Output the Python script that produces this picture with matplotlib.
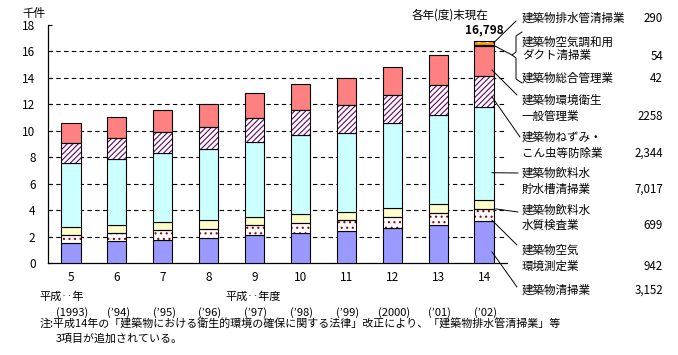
import numpy as np
import matplotlib.pyplot as plt

plt.rcParams['font.family'] = ['Noto Sans CJK JP', 'DejaVu Sans']
plt.rcParams['hatch.linewidth'] = 0.8

# 年度ラベル
years = ['5', '6', '7', '8', '9', '10', '11', '12', '13', '14']
year_notes = ['(1993)', '(’94)', '(’95)', '(’96)', '(’97)', '(’98)', '(’99)', '(2000)', '(’01)', '(’02)']

# 業種別登録件数（千件）、下から積み上げ
cleaning = [1.49, 1.64, 1.72, 1.87, 2.10, 2.25, 2.40, 2.62, 2.85, 3.152]
air_measure = [0.61, 0.61, 0.78, 0.73, 0.75, 0.75, 0.83, 0.84, 0.91, 0.942]
water_test = [0.60, 0.60, 0.60, 0.65, 0.60, 0.68, 0.60, 0.68, 0.70, 0.699]
water_tank = [4.90, 5.05, 5.20, 5.35, 5.68, 5.98, 6.03, 6.43, 6.71, 7.017]
pest = [1.45, 1.53, 1.58, 1.67, 1.84, 1.91, 2.07, 2.11, 2.27, 2.344]
general = [1.52, 1.59, 1.67, 1.73, 1.87, 1.95, 2.04, 2.12, 2.27, 2.258]
total_mgmt = [0, 0, 0, 0, 0, 0, 0, 0, 0, 0.042]
duct = [0, 0, 0, 0, 0, 0, 0, 0, 0, 0.054]
drain = [0, 0, 0, 0, 0, 0, 0, 0, 0, 0.290]

total_label = '16,798'

# 右側の凡例テキスト
right_labels = ['建築物排水管清掃業', '建築物空気調和用\nダクト清掃業', '建築物総合管理業',
                '建築物環境衛生\n一般管理業', '建築物ねずみ・\nこん虫等防除業',
                '建築物飲料水\n貯水槽清掃業', '建築物飲料水\n水質検査業',
                '建築物空気\n環境測定業', '建築物清掃業']
right_values = ['290', '54', '42', '2258', '2,344', '7,017', '699', '942', '3,152']

series = [cleaning, air_measure, water_test, water_tank, pest, general, total_mgmt, duct, drain]
# (塗り色, ハッチ, ハッチ色)
styles = [('#9999FF', None, None),
          ('white', '...', '#990000'),
          ('#FFFFCC', None, None),
          ('#CCFFFF', None, None),
          ('white', '//////', '#660066'),
          ('#FF8080', None, None),
          ('black', None, None),
          ('black', None, None),
          ('#FF9900', '..', '#FFFFCC')]

W, H = 678, 355


def fp(x, y):
    # 図のピクセル座標（左上原点）→ figure fraction
    return (x / W, 1 - y / H)


fig = plt.figure(figsize=(6.78, 3.55), dpi=100)
ax = fig.add_axes([48 / W, 1 - 263 / H, 459 / W, 238 / H])

x = np.arange(len(years))
width = 0.42
bottom = np.zeros(len(years))
for vals, (fc, hatch, hc) in zip(series, styles):
    vals = np.array(vals, dtype=float)
    m = vals > 0
    if hatch:
        ax.bar(x[m], vals[m], width, bottom=bottom[m], color=fc, hatch=hatch,
               edgecolor=hc, linewidth=0, zorder=3)
        ax.bar(x[m], vals[m], width, bottom=bottom[m], fill=False,
               edgecolor='black', linewidth=0.8, zorder=4)
    else:
        ax.bar(x[m], vals[m], width, bottom=bottom[m], color=fc,
               edgecolor='black', linewidth=0.8, zorder=3)
    bottom = bottom + vals

ax.set_xlim(-0.5, 9.5)
ax.set_ylim(0, 18)
ax.set_yticks(np.arange(0, 19, 2))
for yv in np.arange(2, 18, 2):
    ax.axhline(yv, color='black', lw=0.8, ls=(0, (4, 3)), zorder=1)

ax.spines['top'].set_visible(False)
ax.spines['right'].set_visible(False)
ax.spines['left'].set_linewidth(0.9)
ax.spines['bottom'].set_linewidth(0.9)
ax.tick_params(axis='y', direction='in', length=3, pad=9, labelsize=8.5)
ax.set_xticks(x)
ax.set_xticklabels(years)
ax.tick_params(axis='x', length=0, pad=6, labelsize=8.5)

for i, note in enumerate(year_notes):
    ax.annotate(note, xy=(i, 0), xycoords=('data', 'axes fraction'),
                xytext=(1, -35.5), textcoords='offset points',
                ha='center', va='center', fontsize=8, annotation_clip=False)

# 合計ラベル
ax.annotate(total_label, xy=(x[-1], bottom[-1]), xytext=(0, 3),
            textcoords='offset points', ha='center', va='bottom',
            fontsize=8.5, fontweight='bold', annotation_clip=False)

# 引き出し線（最終年度の各区分から）
cum = np.cumsum([s[-1] for s in series])
starts = np.concatenate([[0], cum[:-1]])
last = x[-1]
leaders = [
    (last + 0.21, starts[8] + series[8][-1] * 0.5, (516, 21)),
    (last + 0.21, starts[6] + (series[6][-1] + series[7][-1]) * 0.5, (512, 55)),
    (last + 0.17, starts[5] + series[5][-1] * 0.2, (517, 95)),
    (last + 0.17, starts[4] + series[4][-1] * 0.33, (520, 137)),
    (last + 0.17, starts[3] + series[3][-1] * 0.29, (518, 173)),
    (last + 0.25, starts[2], (518, 212)),
    (last + 0.17, starts[1] + series[1][-1] * 0.1, (517, 245)),
    (last + 0.17, starts[0] + series[0][-1] * 0.27, (517, 287)),
]
for lx, ly, end in leaders:
    ax.annotate('', xy=(lx, ly), xycoords='data', xytext=fp(*end),
                textcoords='figure fraction', annotation_clip=False,
                arrowprops=dict(arrowstyle='-', color='black', lw=0.7,
                                shrinkA=0, shrinkB=0))

# 中括弧
bx = [522, 516, 516, 512, 516, 516, 522]
by = [32, 36, 52, 55, 58, 79, 83]
fig.add_artist(plt.Line2D([v / W for v in bx], [1 - v / H for v in by],
                          transform=fig.transFigure, color='black', lw=0.7))

label_y = [(18,), (42, 56), (78,), (100, 116), (137, 153), (173, 189),
           (210, 225), (250, 266), (290,)]
for lab, val, ys in zip(right_labels, right_values, label_y):
    for line, yy in zip(lab.split('\n'), ys):
        fig.text(*fp(522, yy), line, ha='left', va='center', fontsize=8.3)
    fig.text(*fp(663, ys[-1]), val, ha='right', va='center', fontsize=8.3)

fig.text(*fp(22, 14), '千件', ha='left', va='center', fontsize=8.3)
fig.text(*fp(412, 15), '各年(度)末現在', ha='left', va='center', fontsize=8.3)
fig.text(*fp(39, 297), '平成‥年', ha='left', va='center', fontsize=8)
fig.text(*fp(225, 297), '平成‥年度', ha='left', va='center', fontsize=8)
fig.text(*fp(40, 324), '注:平成14年の「建築物における衛生的環境の確保に関する法律」改正により、「建築物排水管清掃業」等',
         ha='left', va='center', fontsize=7.9)
fig.text(*fp(56, 339), '3項目が追加されている。', ha='left', va='center', fontsize=7.9)

fig.savefig('out.png', dpi=100)
